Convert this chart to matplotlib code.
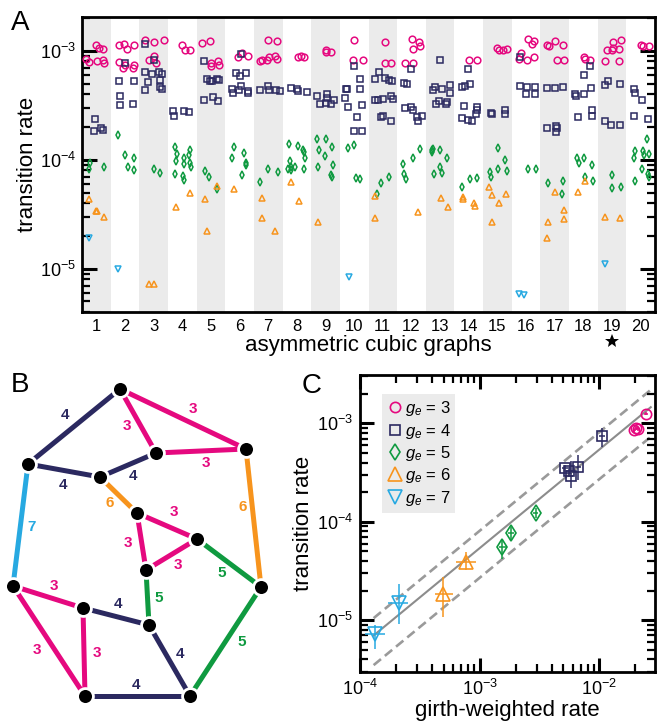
import numpy as np
import matplotlib
matplotlib.use('Agg')
import matplotlib.pyplot as plt
from matplotlib.lines import Line2D
from matplotlib.ticker import LogLocator, NullFormatter

plt.rcParams['font.family'] = ['Liberation Sans', 'DejaVu Sans']
plt.rcParams['mathtext.fontset'] = 'custom'
plt.rcParams['mathtext.rm'] = 'Liberation Sans'
plt.rcParams['mathtext.it'] = 'Liberation Sans:italic'

PINK = '#e5097f'
NAVY = '#2b2960'
GREEN = '#0f9a40'
ORANGE = '#f7941d'
CYAN = '#27a9e1'

# ---- panel A: (graph position, transition rate) for each edge girth ----
rates_g3 = [
    (1.00, 1.13e-3), (1.09, 1.07e-3), (1.22, 1.05e-3), (0.65, 8.5e-4), (0.76, 7.9e-4), (1.02, 8.0e-4), (1.22, 8.3e-4), (1.28, 7.8e-4),
    (1.78, 1.13e-3), (1.95, 1.17e-3), (2.07, 1.05e-3), (2.30, 1.13e-3), (1.78, 7.9e-4), (1.93, 7.0e-4), (1.99, 7.4e-4), (2.28, 7.0e-4), (2.30, 7.4e-4),
    (2.71, 1.25e-3), (3.00, 1.21e-3), (3.35, 1.25e-3), (2.83, 8.3e-4), (3.00, 8.9e-4), (3.09, 7.8e-4),
    (3.99, 1.13e-3), (4.10, 1.03e-3), (4.28, 1.03e-3),
    (4.70, 1.18e-3), (4.97, 1.23e-3), (5.00, 7.8e-4), (5.02, 7.2e-4), (5.26, 8.1e-4), (5.28, 7.4e-4),
    (5.93, 8.8e-4), (6.07, 9.5e-4), (6.30, 8.9e-4),
    (7.00, 1.25e-3), (7.29, 1.23e-3), (6.71, 8.1e-4), (6.77, 8.3e-4), (6.94, 8.2e-4), (7.02, 8.8e-4), (7.23, 8.9e-4), (7.29, 8.5e-4),
    (8.05, 8.8e-4), (8.14, 8.9e-4), (8.26, 8.8e-4),
    (9.02, 1.03e-3), (9.00, 9.7e-4), (9.20, 9.7e-4),
    (10.01, 1.25e-3), (9.95, 8.2e-4), (10.30, 8.3e-4),
    (11.06, 1.21e-3), (11.09, 7.8e-4), (11.27, 7.8e-4),
    (12.02, 1.28e-3), (12.28, 1.21e-3), (12.07, 1.05e-3), (12.30, 1.10e-3), (11.79, 7.8e-4), (12.07, 7.8e-4),
    (14.01, 8.2e-4), (14.28, 8.2e-4),
    (14.98, 1.07e-3), (15.06, 1.03e-3), (15.19, 1.03e-3), (15.33, 1.04e-3),
    (16.05, 1.30e-3), (16.26, 1.23e-3), (16.22, 1.17e-3), (15.81, 9.5e-4), (16.02, 8.3e-4), (16.28, 8.8e-4), (15.76, 8.5e-4),
    (16.73, 1.13e-3), (16.79, 1.10e-3), (17.02, 1.23e-3), (17.28, 1.13e-3), (17.08, 8.3e-4), (17.33, 8.3e-4),
    (18.01, 8.8e-4), (18.07, 8.5e-4), (18.24, 8.3e-4),
    (19.02, 1.21e-3), (19.33, 1.25e-3), (18.83, 1.03e-3), (19.00, 1.03e-3), (19.02, 1.07e-3), (19.26, 1.05e-3), (18.74, 8.1e-4), (19.26, 8.0e-4),
    (20.02, 1.13e-3), (20.07, 1.10e-3), (20.30, 1.10e-3),
]
rates_g4 = [
    (0.97, 2.36e-4), (0.93, 1.84e-4), (1.17, 1.97e-4), (1.22, 1.87e-4),
    (1.78, 5.27e-4), (2.33, 5.27e-4), (1.81, 3.84e-4), (1.81, 3.18e-4), (2.27, 3.24e-4), (2.01, 7.8e-4),
    (2.71, 1.17e-3), (3.02, 8.2e-4), (2.71, 6.37e-4), (2.95, 6.11e-4), (3.19, 6.37e-4), (3.28, 6.11e-4), (2.79, 5.16e-4), (3.23, 5.38e-4), (3.23, 4.67e-4), (3.28, 4.45e-4), (2.69, 4.35e-4),
    (3.67, 2.82e-4), (3.70, 2.52e-4), (4.07, 2.82e-4), (4.24, 2.74e-4),
    (4.76, 8.0e-4), (4.85, 5.57e-4), (4.97, 5.27e-4), (5.05, 5.31e-4), (5.20, 5.53e-4), (5.28, 5.38e-4), (4.76, 3.53e-4), (5.06, 3.78e-4), (5.23, 3.48e-4),
    (6.05, 9.45e-4), (5.86, 6.28e-4), (6.01, 5.86e-4), (6.24, 6.28e-4), (5.72, 4.51e-4), (5.76, 4.12e-4), (5.98, 4.42e-4), (6.05, 4.74e-4), (6.28, 4.30e-4), (6.30, 4.15e-4),
    (6.73, 4.35e-4), (7.00, 4.74e-4), (7.02, 4.42e-4), (7.26, 4.42e-4), (7.41, 4.30e-4),
    (7.81, 4.58e-4), (8.02, 4.51e-4), (8.05, 4.27e-4), (8.37, 4.18e-4),
    (8.70, 3.84e-4), (9.05, 4.06e-4), (8.79, 3.24e-4), (9.00, 3.33e-4), (9.05, 3.66e-4), (9.20, 3.29e-4), (9.31, 3.58e-4),
    (9.99, 7.23e-4), (10.22, 5.49e-4), (9.70, 4.51e-4), (9.76, 4.45e-4), (10.19, 4.51e-4), (9.69, 3.71e-4), (9.78, 3.06e-4), (10.27, 3.18e-4), (10.09, 2.48e-4), (9.98, 1.84e-4), (10.27, 1.84e-4),
    (10.85, 6.37e-4), (10.71, 5.49e-4), (11.09, 5.65e-4), (11.23, 5.38e-4), (11.33, 5.27e-4), (10.71, 3.53e-4), (10.83, 3.53e-4), (11.00, 3.61e-4), (11.27, 3.86e-4), (11.37, 3.61e-4), (10.94, 2.48e-4), (11.02, 2.52e-4), (11.30, 2.28e-4),
    (11.99, 6.89e-4), (11.73, 5.12e-4), (11.84, 4.94e-4), (11.78, 3.00e-4), (11.97, 3.06e-4), (12.05, 2.85e-4), (12.19, 2.45e-4), (12.35, 2.52e-4), (12.24, 2.26e-4),
    (12.99, 8.2e-4), (12.76, 4.35e-4), (12.83, 4.67e-4), (13.06, 4.51e-4), (13.34, 4.84e-4), (13.34, 4.12e-4), (12.85, 3.29e-4), (12.97, 3.48e-4), (13.20, 3.24e-4), (13.23, 3.40e-4),
    (13.99, 6.89e-4), (13.76, 4.67e-4), (13.86, 4.77e-4), (14.03, 4.94e-4), (13.84, 3.11e-4), (14.27, 3.06e-4), (14.30, 2.89e-4), (14.24, 2.62e-4), (13.76, 2.43e-4), (13.99, 2.31e-4), (14.10, 2.28e-4),
    (14.77, 2.70e-4), (14.80, 2.62e-4), (15.27, 2.85e-4), (15.27, 2.62e-4),
    (15.78, 8.8e-4), (15.78, 4.74e-4), (16.02, 4.67e-4), (16.30, 4.67e-4), (15.99, 4.00e-4), (16.30, 4.00e-4),
    (16.73, 4.61e-4), (17.00, 4.61e-4), (17.28, 4.67e-4), (16.73, 1.97e-4), (17.06, 2.05e-4), (17.08, 1.97e-4), (17.05, 1.81e-4),
    (18.24, 7.23e-4), (18.01, 5.98e-4), (18.27, 4.58e-4), (18.01, 4.06e-4), (17.72, 4.00e-4), (17.74, 3.84e-4), (18.30, 2.89e-4), (18.30, 2.52e-4), (17.81, 2.48e-4),
    (18.85, 5.31e-4), (18.77, 4.84e-4), (19.29, 4.94e-4), (18.74, 2.28e-4), (18.95, 2.10e-4), (19.29, 2.10e-4),
    (19.76, 4.51e-4), (19.81, 4.15e-4), (20.05, 3.58e-4), (19.78, 2.52e-4), (20.26, 2.39e-4),
]
rates_g5 = [
    (0.77, 9.25e-5), (0.73, 8.16e-5), (1.28, 8.5e-5),
    (1.74, 1.68e-4), (2.01, 1.10e-4), (2.33, 1.04e-4), (2.09, 8.5e-5), (2.30, 8.04e-5),
    (3.00, 8.3e-5), (3.23, 7.6e-5),
    (3.76, 1.30e-4), (3.81, 1.13e-4), (4.28, 1.24e-4), (4.22, 1.10e-4), (4.07, 1.05e-4), (3.79, 9.79e-5), (4.05, 9.12e-5), (4.28, 9.38e-5), (4.30, 8.5e-5), (3.76, 7.4e-5), (4.02, 7.06e-5), (4.07, 6.5e-5),
    (4.79, 7.9e-5), (4.93, 6.9e-5), (5.22, 5.35e-5),
    (5.81, 1.30e-4), (6.16, 1.16e-4), (5.72, 1.03e-4), (6.24, 9.25e-5), (6.24, 8.9e-5), (6.10, 7.3e-5),
    (6.73, 6.2e-5), (6.98, 8.3e-5), (7.33, 7.7e-5),
    (7.73, 1.41e-4), (8.05, 1.34e-4), (8.22, 1.24e-4), (8.26, 1.17e-4), (8.28, 1.03e-4), (7.76, 9.79e-5), (7.70, 8.3e-5), (7.81, 8.04e-5), (7.93, 8.62e-5), (8.26, 8.3e-5), (7.79, 8.62e-5),
    (8.70, 1.54e-4), (9.02, 1.54e-4), (8.77, 1.24e-4), (9.22, 1.30e-4), (8.97, 1.08e-4), (8.73, 8.5e-5), (9.26, 8.9e-5), (9.20, 7.2e-5), (9.23, 6.98e-5),
    (9.78, 1.29e-4), (9.98, 1.36e-4), (10.05, 6.8e-5), (10.22, 6.6e-5),
    (11.23, 6.9e-5), (10.95, 6.07e-5), (10.79, 4.9e-5),
    (12.31, 1.27e-4), (12.05, 1.03e-4), (11.72, 9.12e-5), (11.73, 7.4e-5), (11.81, 6.6e-5),
    (12.70, 1.24e-4), (12.76, 1.27e-4), (12.73, 1.18e-4), (12.99, 1.23e-4), (13.23, 1.05e-4), (12.79, 7.4e-5), (12.99, 8.5e-5), (13.05, 7.5e-5),
    (13.76, 5.6e-5), (14.03, 6.6e-5), (14.28, 6.8e-5),
    (15.01, 1.29e-4), (15.28, 1.00e-4), (15.01, 8.3e-5), (15.33, 7.9e-5), (14.74, 7.7e-5), (14.77, 6.9e-5),
    (16.05, 8.3e-5), (16.34, 8.3e-5),
    (16.77, 6.07e-5), (17.28, 6.4e-5), (17.26, 4.9e-5),
    (17.78, 1.05e-4), (17.84, 9.25e-5), (18.01, 1.03e-4), (18.30, 9.0e-5), (18.07, 6.98e-5), (18.33, 6.4e-5),
    (19.00, 7.3e-5), (18.99, 5.5e-5), (19.33, 5.6e-5),
    (20.23, 1.54e-4), (19.79, 1.21e-4), (19.76, 1.03e-4), (20.07, 1.21e-4), (20.10, 1.10e-4), (20.28, 1.13e-4), (20.05, 8.3e-5), (19.79, 6.4e-5), (20.26, 7.4e-5), (20.30, 6.98e-5),
]
rates_g6 = [
    (0.73, 4.33e-5), (1.00, 3.37e-5), (1.03, 3.37e-5), (1.28, 3.0e-5),
    (2.83, 7.3e-6), (3.02, 7.3e-6),
    (3.79, 3.7e-5), (4.28, 5.0e-5),
    (5.20, 5.7e-5), (4.79, 4.33e-5), (4.85, 2.2e-5),
    (5.80, 5.4e-5),
    (6.79, 4.5e-5), (6.79, 2.9e-5), (7.23, 2.2e-5),
    (7.78, 6.2e-5), (8.08, 4.2e-5),
    (8.73, 2.7e-5),
    (10.74, 4.7e-5), (10.74, 2.9e-5),
    (12.23, 3.3e-5),
    (13.02, 4.5e-5), (13.28, 3.7e-5),
    (13.79, 4.6e-5), (13.79, 4.4e-5), (14.19, 3.98e-5), (14.21, 3.8e-5),
    (14.72, 5.6e-5), (14.80, 4.8e-5), (15.29, 4.9e-5), (15.06, 3.98e-5), (14.80, 2.66e-5),
    (17.02, 5.1e-5), (17.31, 3.45e-5), (17.31, 2.84e-5), (16.77, 2.7e-5), (16.73, 1.9e-5),
    (18.07, 6.4e-5), (17.81, 5.1e-5),
    (18.74, 3.0e-5), (19.29, 2.95e-5),
]
rates_g7 = [
    (0.73, 1.9e-5), (1.74, 9.9e-6), (9.81, 8.45e-6), (15.76, 5.9e-6), (15.93, 5.7e-6), (18.77, 1.1e-5),
]
graph_labels = [str(i) for i in range(1, 21)]
starred_graph = 19

# ---- panel C: girth-weighted rate vs measured rate, with error ranges ----
c_x = {3: [1.96e-2, 2.05e-2, 2.12e-2, 2.45e-2],
       4: [5.2e-3, 5.6e-3, 5.8e-3, 6.7e-3, 1.05e-2],
       5: [1.55e-3, 1.82e-3, 2.94e-3],
       6: [4.94e-4, 7.74e-4],
       7: [1.33e-4, 2.11e-4]}
c_x_lo = {3: [1.90e-2, 1.98e-2, 2.05e-2, 2.36e-2],
          4: [4.9e-3, 5.3e-3, 5.5e-3, 6.3e-3, 9.9e-3],
          5: [1.45e-3, 1.72e-3, 2.78e-3],
          6: [4.22e-4, 6.4e-4],
          7: [1.10e-4, 1.72e-4]}
c_x_hi = {3: [2.02e-2, 2.12e-2, 2.20e-2, 2.55e-2],
          4: [5.5e-3, 5.9e-3, 6.1e-3, 7.1e-3, 1.12e-2],
          5: [1.65e-3, 1.93e-3, 3.10e-3],
          6: [6.0e-4, 9.4e-4],
          7: [1.62e-4, 2.53e-4]}
c_y = {3: [8.5e-4, 9.0e-4, 8.7e-4, 1.25e-3],
       4: [3.5e-4, 3.3e-4, 2.9e-4, 3.6e-4, 7.4e-4],
       5: [5.5e-5, 7.7e-5, 1.24e-4],
       6: [1.84e-5, 3.92e-5],
       7: [7.2e-6, 1.48e-5]}
c_y_lo = {3: [8.1e-4, 8.6e-4, 8.3e-4, 1.21e-3],
          4: [3.2e-4, 3.0e-4, 2.2e-4, 2.65e-4, 5.7e-4],
          5: [4.2e-5, 6.5e-5, 1.10e-4],
          6: [1.08e-5, 3.22e-5],
          7: [5.15e-6, 9.2e-6]}
c_y_hi = {3: [8.9e-4, 9.4e-4, 9.1e-4, 1.29e-3],
          4: [3.8e-4, 3.6e-4, 4.1e-4, 4.8e-4, 8.9e-4],
          5: [6.5e-5, 8.8e-5, 1.38e-4],
          6: [2.76e-5, 4.95e-5],
          7: [8.9e-6, 2.36e-5]}
fit_x = [1.3e-4, 2.7e-2]
fit_y = [7.0e-6, 1.46e-3]
band = [1.5, 0.5]

# ---- panel B: the cubic graph, nodes and (node, node, girth) edges ----
nodes = [(120, 332), (246, 272), (156, 268), (28, 257), (100, 244), (137, 208), (197, 182),
         (146, 151), (261, 134), (13, 135), (83, 113), (149, 96), (85, 25), (190, 25)]
edges = [(0, 3, 4), (0, 2, 3), (0, 1, 3), (2, 1, 3), (2, 4, 4), (3, 4, 4), (3, 9, 7),
         (4, 5, 6), (1, 8, 6), (5, 6, 3), (5, 7, 3), (7, 6, 3), (6, 8, 5), (7, 11, 5),
         (8, 13, 5), (9, 10, 3), (9, 12, 3), (10, 12, 3), (10, 11, 4), (11, 13, 4), (12, 13, 4)]
edge_label_pos = [(65, 306), (127, 295), (193, 312), (206, 258), (133, 245), (63, 236), (32, 194),
                  (110, 218), (243, 214), (174, 209), (128, 178), (178, 156), (222, 148), (159, 123),
                  (242, 79), (54, 135), (37, 71), (97, 68), (118, 117), (180, 67), (136, 36)]

colors = {3: PINK, 4: NAVY, 5: GREEN, 6: ORANGE, 7: CYAN}
markers = {3: 'o', 4: 's', 5: 'd', 6: '^', 7: 'v'}

W, H = 657, 721
fig = plt.figure(figsize=(W / 100, H / 100), dpi=100)

# ======== A ========
axA = fig.add_axes([82 / W, 1 - 312 / H, 573 / W, 295 / H])
for i in range(1, 21, 2):
    axA.axvspan(i - 0.5, i + 0.5, color='#ebebeb', lw=0, zorder=0)
sizesA = {3: 4.8, 4: 3.7, 5: 4.2, 6: 5.0, 7: 5.0}
for g, pts in zip([3, 4, 5, 6, 7], [rates_g3, rates_g4, rates_g5, rates_g6, rates_g7]):
    xs, ys = zip(*pts)
    axA.plot(xs, ys, ls='none', marker=markers[g], mfc='none', mec=colors[g],
             ms=sizesA[g], mew=1.1, zorder=3)
axA.set_yscale('log')
axA.set_ylim(4.0e-6, 2.05e-3)
axA.set_xlim(0.5, 20.5)
axA.set_xticks(range(1, 21))
axA.set_xticklabels(graph_labels)
axA.tick_params(axis='x', length=0, labelsize=12, pad=5)
axA.tick_params(axis='y', which='major', direction='in', length=11, width=2.2,
                labelsize=13, left=True, right=True, pad=4)
axA.tick_params(axis='y', which='minor', direction='in', length=6, width=1.6, left=True, right=True)
axA.yaxis.set_minor_locator(LogLocator(base=10, subs=np.arange(2, 10), numticks=20))
axA.yaxis.set_minor_formatter(NullFormatter())
for s in axA.spines.values():
    s.set_linewidth(2)
axA.set_ylabel('transition rate', fontsize=16, labelpad=2)
axA.set_xlabel('asymmetric cubic graphs', fontsize=16, labelpad=1)
# star under the highlighted graph
axA.plot([starred_graph], [-0.097], marker='*', color='black', ms=10, mew=0,
         transform=axA.get_xaxis_transform(), clip_on=False)

# ======== C ========
axC = fig.add_axes([360 / W, 1 - 672 / H, 295 / W, 297 / H])
fx = np.array(fit_x)
fy = np.array(fit_y)
axC.plot(fx, fy, color='#8c8c8c', lw=1.5, zorder=1)
for b in band:
    axC.plot(fx, fy * b, color='#9a9a9a', lw=1.9, ls=(0, (3.6, 1.9)), zorder=1)
sizesC = {3: 7.4, 4: 6.6, 5: 7.8, 6: 10, 7: 10}
for g in [3, 4, 5, 6, 7]:
    x = np.array(c_x[g]); y = np.array(c_y[g])
    xerr = [x - np.array(c_x_lo[g]), np.array(c_x_hi[g]) - x]
    yerr = [y - np.array(c_y_lo[g]), np.array(c_y_hi[g]) - y]
    axC.errorbar(x, y, xerr=xerr, yerr=yerr, fmt=markers[g], mfc='none', mec=colors[g],
                 ecolor=colors[g], ms=sizesC[g], mew=1.2, elinewidth=1.1, capsize=0, zorder=3)
axC.set_xscale('log')
axC.set_yscale('log')
axC.set_xlim(1e-4, 2.93e-2)
axC.set_ylim(2.98e-6, 3.1e-3)
for ax_ in (axC.xaxis, axC.yaxis):
    ax_.set_minor_locator(LogLocator(base=10, subs=np.arange(2, 10), numticks=20))
    ax_.set_minor_formatter(NullFormatter())
axC.tick_params(which='major', direction='in', length=10, width=2.2, labelsize=13,
                top=True, right=True, pad=5)
axC.tick_params(which='minor', direction='in', length=5.5, width=1.6, top=True, right=True)
for s in axC.spines.values():
    s.set_linewidth(2)
axC.set_xlabel('girth-weighted rate', fontsize=16, labelpad=1)
axC.set_ylabel('transition rate', fontsize=16, labelpad=2)
handles = [Line2D([], [], ls='none', marker=markers[g], mfc='none', mec=colors[g],
                  ms=sizesC[g], mew=1.2) for g in [3, 4, 5, 6, 7]]
leg = axC.legend(handles, [f'$g_e$ = {g}' for g in [3, 4, 5, 6, 7]], loc='upper left',
                 bbox_to_anchor=(0.075, 0.935), borderaxespad=0, fontsize=12,
                 handlelength=0.9, handletextpad=0.15, labelspacing=0.2, borderpad=0.3,
                 frameon=True, fancybox=False)
leg.get_frame().set_facecolor('#ebebeb')
leg.get_frame().set_edgecolor('none')
leg.get_frame().set_alpha(1)

# ======== B ========
axB = fig.add_axes([0, 0, 290 / W, 350 / H])
axB.set_xlim(0, 290)
axB.set_ylim(0, 350)
axB.axis('off')
for (a, b, g), (lx, ly) in zip(edges, edge_label_pos):
    axB.plot([nodes[a][0], nodes[b][0]], [nodes[a][1], nodes[b][1]], color=colors[g],
             lw=3.6, solid_capstyle='butt', zorder=1)
    axB.text(lx, ly, str(g), color=colors[g], fontsize=11, fontweight='bold',
             ha='center', va='center')
nx, ny = zip(*nodes)
axB.plot(nx, ny, ls='none', marker='o', ms=11.4, mfc='black', mec='white', mew=2.0, zorder=3)

# panel letters
for letter, (px, py) in zip('ABC', [(11, 10), (11, 372), (302, 373)]):
    fig.text(px / W, 1 - py / H, letter, fontsize=20, ha='left', va='top')

fig.savefig('out.png', dpi=100)
